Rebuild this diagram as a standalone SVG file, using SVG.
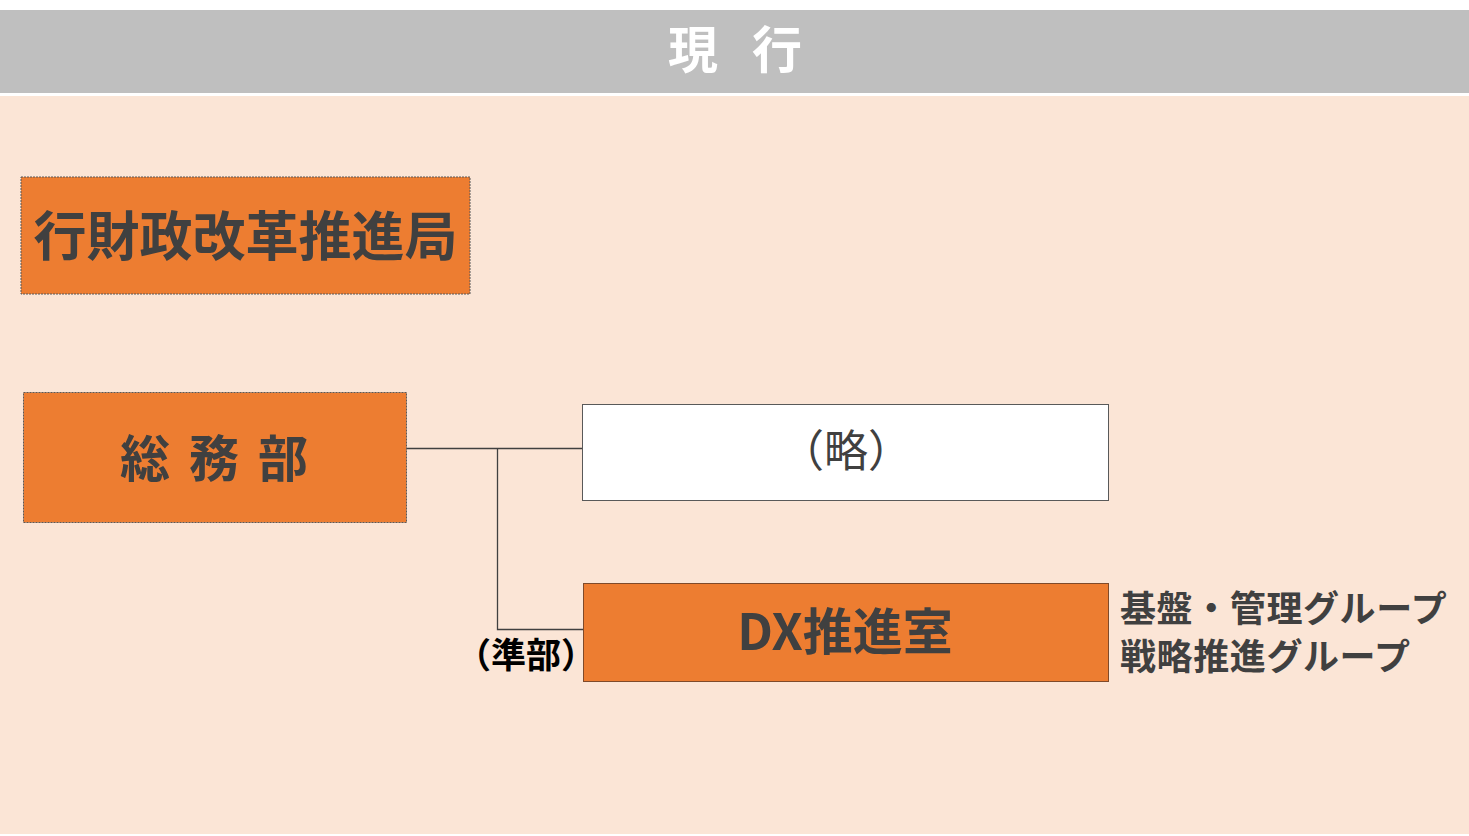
<svg xmlns="http://www.w3.org/2000/svg" width="1469" height="836" viewBox="0 0 1469 836">
<style>
.jp{font-family:"Noto Sans CJK JP","Noto Sans CJK SC",sans-serif;}
.dark{fill:#404040;font-weight:bold;}
.org{fill:#ED7D31;stroke:#595959;stroke-width:1;stroke-dasharray:2 1;}
.line{fill:none;stroke:#404040;stroke-width:1.3;}
</style>
<rect x="0" y="0" width="1469" height="836" fill="#FFFFFF"/>
<rect x="0" y="96" width="1469" height="738" fill="#FBE5D6"/>
<g id="header">
<rect x="0" y="10" width="1469" height="83" fill="#BFBFBF"/>
<text class="jp" x="668" y="68" font-size="50" font-weight="bold" fill="#FFFFFF" letter-spacing="34">現行</text>
</g>
<g id="connectors">
<path class="line" d="M406 448.5 H582"/>
<path class="line" d="M497.5 448.5 V629.5 H583" stroke="#8c8c8c"/>
</g>
<g id="node-kyoku">
<rect class="org" x="21" y="177" width="449" height="117"/>
<text class="jp dark" x="245.5" y="256" font-size="53" text-anchor="middle">行財政改革推進局</text>
</g>
<g id="node-somu">
<rect class="org" x="23.5" y="392.5" width="383" height="130"/>
<text class="jp dark" x="120" y="477" font-size="50" letter-spacing="19">総務部</text>
</g>
<g id="node-ryaku">
<rect x="582.5" y="404.5" width="526" height="96" fill="#FFFFFF" stroke="#595959" stroke-width="1"/>
<text class="jp" x="846" y="467" font-size="44" fill="#404040" text-anchor="middle">（略）</text>
</g>
<g id="node-dx">
<rect x="583.5" y="583.5" width="525" height="98" fill="#ED7D31" stroke="#7f4a2a" stroke-width="1"/>
<text class="jp dark" x="845" y="650" font-size="50" text-anchor="middle">DX推進室</text>
</g>
<text class="jp" x="526" y="668" font-size="35" font-weight="bold" fill="#000000" text-anchor="middle">（準部）</text>
<g id="groups">
<text class="jp dark" font-size="36" letter-spacing="0.6"><tspan x="1120" y="622">基盤・管理グループ</tspan><tspan x="1120" y="670">戦略推進グループ</tspan></text>
</g>
</svg>
